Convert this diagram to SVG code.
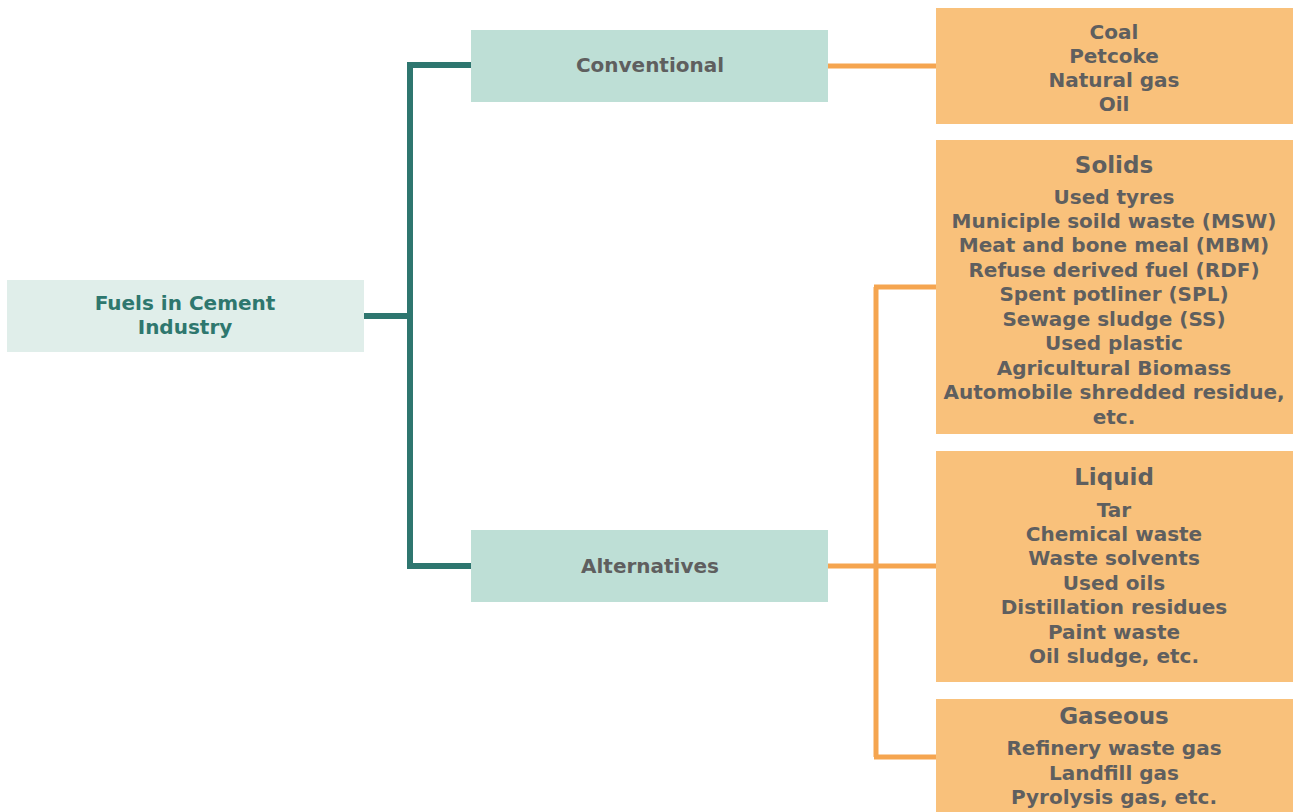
<svg xmlns="http://www.w3.org/2000/svg" width="1294" height="812" viewBox="0 0 1294 812">
  <style>
    .t { font-family: "DejaVu Sans", "Liberation Sans", sans-serif; font-weight: bold; font-size: 20px; fill: #5f5f5f; text-anchor: middle; }
    .h { font-size: 23px; }
    .root { fill: #2e776e; }
    .teal { fill: none; stroke: #2e766f; stroke-width: 6; }
    .orange { fill: none; stroke: #f5a550; stroke-width: 5; }
    .boxRoot { fill: #e0eeea; }
    .boxMid { fill: #bedfd6; }
    .boxLeaf { fill: #f9c17b; }
  </style>
  <rect width="1294" height="812" fill="#ffffff"/>

  <g id="connectors">
    <path class="teal" d="M364,316 H410 M410,65 V567 M407,65 H471 M407,566 H471"/>
    <path class="orange" d="M828,66 H936"/>
    <path class="orange" d="M828,566 H936 M876,287 V757 M874,287 H936 M874,757 H936"/>
  </g>

  <g id="root">
    <rect class="boxRoot" x="7" y="280" width="357" height="72"/>
    <text class="t root" x="185" y="310">Fuels in Cement</text>
    <text class="t root" x="185" y="334">Industry</text>
  </g>

  <g id="conventional">
    <rect class="boxMid" x="471" y="30" width="357" height="72"/>
    <text class="t" x="650" y="72">Conventional</text>
  </g>

  <g id="alternatives">
    <rect class="boxMid" x="471" y="530" width="357" height="72"/>
    <text class="t" x="650" y="573">Alternatives</text>
  </g>

  <g id="conventional-fuels">
    <rect class="boxLeaf" x="936" y="8" width="357" height="116"/>
    <text class="t" x="1114" y="39">Coal</text>
    <text class="t" x="1114" y="63">Petcoke</text>
    <text class="t" x="1114" y="87">Natural gas</text>
    <text class="t" x="1114" y="111">Oil</text>
  </g>

  <g id="solids">
    <rect class="boxLeaf" x="936" y="140" width="357" height="294"/>
    <text class="t h" x="1114" y="173">Solids</text>
    <text class="t" x="1114" y="204">Used tyres</text>
    <text class="t" x="1114" y="228">Municiple soild waste (MSW)</text>
    <text class="t" x="1114" y="252">Meat and bone meal (MBM)</text>
    <text class="t" x="1114" y="277">Refuse derived fuel (RDF)</text>
    <text class="t" x="1114" y="301">Spent potliner (SPL)</text>
    <text class="t" x="1114" y="326">Sewage sludge (SS)</text>
    <text class="t" x="1114" y="350">Used plastic</text>
    <text class="t" x="1114" y="375">Agricultural Biomass</text>
    <text class="t" x="1114" y="399">Automobile shredded residue,</text>
    <text class="t" x="1114" y="424">etc.</text>
  </g>

  <g id="liquid">
    <rect class="boxLeaf" x="936" y="451" width="357" height="231"/>
    <text class="t h" x="1114" y="485">Liquid</text>
    <text class="t" x="1114" y="517">Tar</text>
    <text class="t" x="1114" y="541">Chemical waste</text>
    <text class="t" x="1114" y="565">Waste solvents</text>
    <text class="t" x="1114" y="590">Used oils</text>
    <text class="t" x="1114" y="614">Distillation residues</text>
    <text class="t" x="1114" y="639">Paint waste</text>
    <text class="t" x="1114" y="663">Oil sludge, etc.</text>
  </g>

  <g id="gaseous">
    <rect class="boxLeaf" x="936" y="699" width="357" height="113"/>
    <text class="t h" x="1114" y="724">Gaseous</text>
    <text class="t" x="1114" y="755">Refinery waste gas</text>
    <text class="t" x="1114" y="780">Landfill gas</text>
    <text class="t" x="1114" y="804">Pyrolysis gas, etc.</text>
  </g>
</svg>
